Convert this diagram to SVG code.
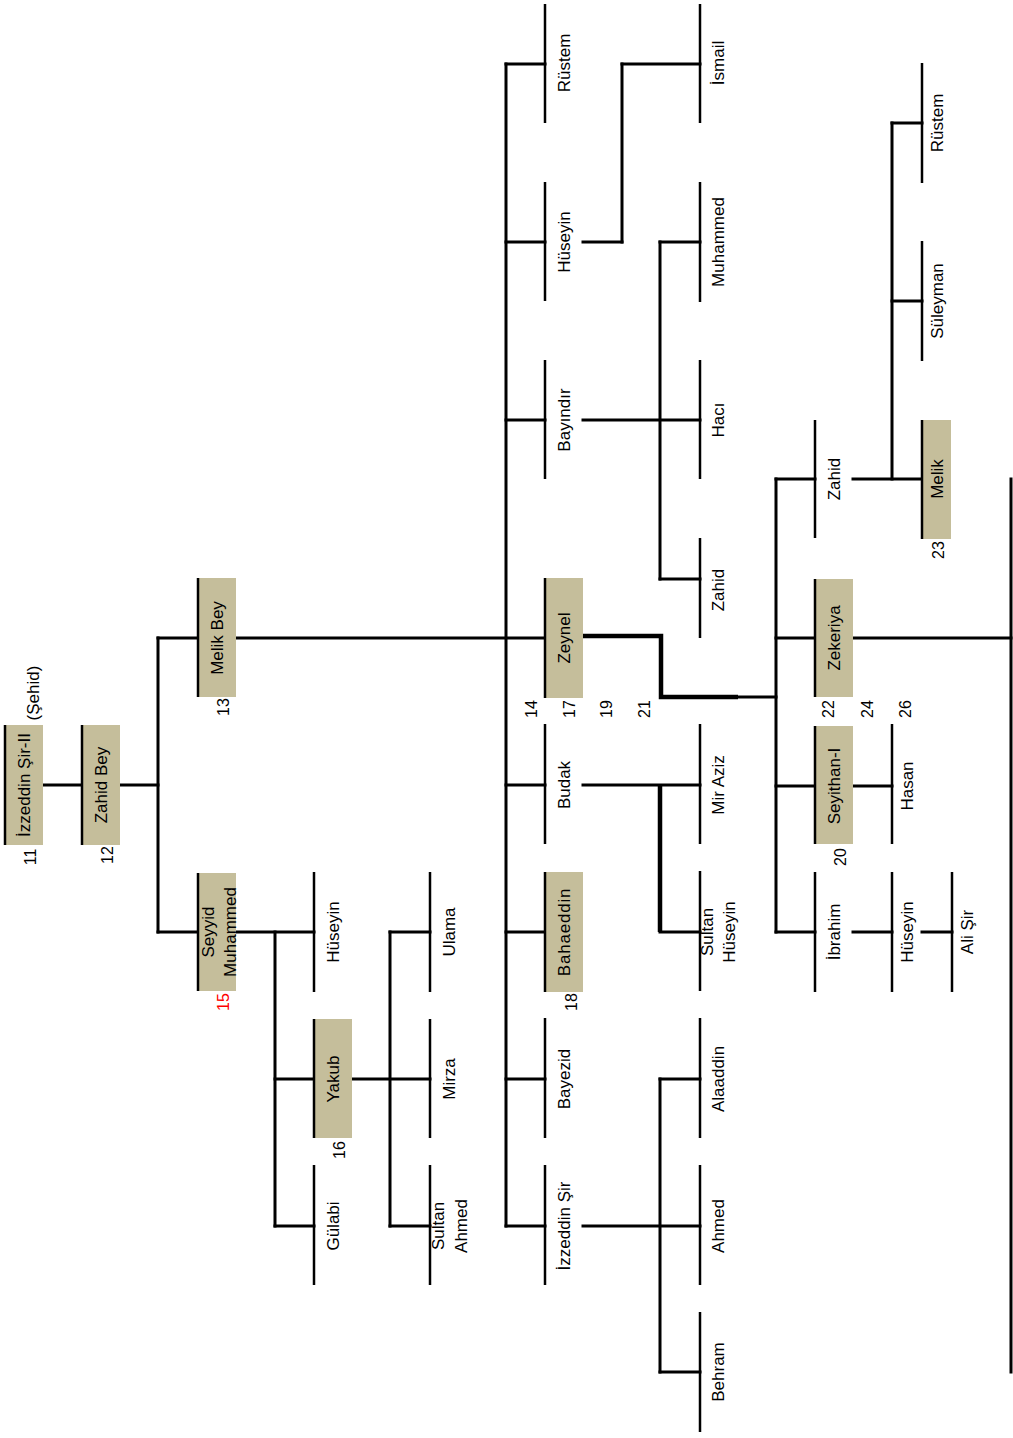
<svg xmlns="http://www.w3.org/2000/svg" width="1013" height="1438" viewBox="0 0 1013 1438">
<style>
.bg{fill:#ffffff}
.box{fill:#C5BE9B}
.edge{stroke:#000;stroke-width:2.5;fill:none}
.c{stroke:#000;stroke-width:3;fill:none;stroke-linecap:square}
.ct{stroke:#000;stroke-width:4.5;fill:none}
.lbl{font-family:"Liberation Sans",Arial,sans-serif;font-size:17px;text-anchor:middle;fill:#000}
.l2{font-family:"Liberation Sans",Arial,sans-serif;font-size:17px;text-anchor:middle;fill:#000}
.num{font-family:"Liberation Sans",Arial,sans-serif;font-size:16px;text-anchor:middle;fill:#000}
.red{fill:#FF0000}
</style>
<rect class="bg" x="0" y="0" width="1013" height="1438"/>

<g id="connectors">
  <line class="c" x1="43" y1="785" x2="82" y2="785"/>
  <line class="c" x1="120" y1="785" x2="158" y2="785"/>
  <line class="c" x1="158" y1="638" x2="158" y2="932"/>
  <line class="c" x1="158" y1="638" x2="198" y2="638"/>
  <line class="c" x1="158" y1="932" x2="198" y2="932"/>
  <line class="c" x1="236" y1="638" x2="545" y2="638"/>
  <line class="c" x1="506" y1="64" x2="506" y2="1226"/>
  <line class="c" x1="506" y1="64" x2="545" y2="64"/>
  <line class="c" x1="506" y1="242" x2="545" y2="242"/>
  <line class="c" x1="506" y1="420" x2="545" y2="420"/>
  <line class="c" x1="506" y1="785" x2="545" y2="785"/>
  <line class="c" x1="506" y1="932" x2="545" y2="932"/>
  <line class="c" x1="506" y1="1079" x2="545" y2="1079"/>
  <line class="c" x1="506" y1="1226" x2="545" y2="1226"/>
  <line class="c" x1="236" y1="932" x2="314" y2="932"/>
  <line class="c" x1="275" y1="932" x2="275" y2="1226"/>
  <line class="c" x1="275" y1="1079" x2="314" y2="1079"/>
  <line class="c" x1="275" y1="1226" x2="314" y2="1226"/>
  <line class="c" x1="352" y1="1079" x2="430" y2="1079"/>
  <line class="c" x1="390" y1="932" x2="390" y2="1226"/>
  <line class="c" x1="390" y1="932" x2="430" y2="932"/>
  <line class="c" x1="390" y1="1226" x2="430" y2="1226"/>
  <line class="c" x1="583" y1="242" x2="622" y2="242"/>
  <line class="c" x1="622" y1="64" x2="622" y2="242"/>
  <line class="c" x1="622" y1="64" x2="700" y2="64"/>
  <line class="c" x1="583" y1="420" x2="700" y2="420"/>
  <line class="c" x1="660" y1="242" x2="660" y2="579"/>
  <line class="c" x1="660" y1="242" x2="700" y2="242"/>
  <line class="c" x1="660" y1="579" x2="700" y2="579"/>
  <polyline class="ct" points="583,636 661,636 661,697 738,697"/>
  <line class="c" x1="738" y1="697" x2="776" y2="697"/>
  <line class="c" x1="776" y1="479" x2="776" y2="932"/>
  <line class="c" x1="776" y1="479" x2="815" y2="479"/>
  <line class="c" x1="776" y1="638" x2="815" y2="638"/>
  <line class="c" x1="776" y1="786" x2="815" y2="786"/>
  <line class="c" x1="776" y1="932" x2="815" y2="932"/>
  <line class="c" x1="853" y1="479" x2="922" y2="479"/>
  <line class="c" x1="892" y1="123" x2="892" y2="479"/>
  <line class="c" x1="892" y1="123" x2="922" y2="123"/>
  <line class="c" x1="892" y1="301" x2="922" y2="301"/>
  <line class="c" x1="853" y1="638" x2="1011" y2="638"/>
  <line class="c" x1="1011" y1="479" x2="1011" y2="1372"/>
  <line class="c" x1="853" y1="786" x2="892" y2="786"/>
  <line class="c" x1="853" y1="932" x2="892" y2="932"/>
  <line class="c" x1="922" y1="932" x2="952" y2="932"/>
  <line class="c" x1="583" y1="785" x2="700" y2="785"/>
  <line class="ct" x1="660" y1="785" x2="660" y2="932"/>
  <line class="c" x1="660" y1="932" x2="700" y2="932"/>
  <line class="c" x1="583" y1="1226" x2="700" y2="1226"/>
  <line class="c" x1="660" y1="1079" x2="660" y2="1372"/>
  <line class="c" x1="660" y1="1079" x2="700" y2="1079"/>
  <line class="c" x1="660" y1="1372" x2="700" y2="1372"/>
</g>

<g id="n11"><rect class="box" x="5" y="725" width="38" height="120"/><line class="edge" x1="5" y1="725" x2="5" y2="845"/><text class="lbl" transform="translate(24,785) rotate(-90)" y="6">İzzeddin Şir-II</text><text class="lbl" transform="translate(33,693) rotate(-90)" y="6">(Şehid)</text><text class="num" transform="translate(30,857) rotate(-90)" y="6">11</text></g>
<g id="n12"><rect class="box" x="82" y="725" width="38" height="120"/><line class="edge" x1="82" y1="725" x2="82" y2="845"/><text class="lbl" transform="translate(101,785) rotate(-90)" y="6">Zahid Bey</text><text class="num" transform="translate(107,855) rotate(-90)" y="6">12</text></g>
<g id="n13"><rect class="box" x="198" y="578" width="38" height="119"/><line class="edge" x1="198" y1="578" x2="198" y2="697"/><text class="lbl" transform="translate(217,638) rotate(-90)" y="6">Melik Bey</text><text class="num" transform="translate(223,707) rotate(-90)" y="6">13</text></g>
<g id="n15"><rect class="box" x="198" y="873" width="38" height="118"/><line class="edge" x1="198" y1="873" x2="198" y2="991"/><text class="l2" transform="translate(214,932) rotate(-90)">Seyyid</text><text class="l2" transform="translate(236,932) rotate(-90)">Muhammed</text><text class="num red" transform="translate(223,1002) rotate(-90)" y="6">15</text></g>
<g id="d1"><line class="edge" x1="314" y1="872" x2="314" y2="992"/><text class="lbl" transform="translate(333,932) rotate(-90)" y="6">Hüseyin</text></g>
<g id="n16"><rect class="box" x="314" y="1019" width="38" height="119"/><line class="edge" x1="314" y1="1019" x2="314" y2="1138"/><text class="lbl" transform="translate(333,1079) rotate(-90)" y="6">Yakub</text><text class="num" transform="translate(339,1150) rotate(-90)" y="6">16</text></g>
<g id="d3"><line class="edge" x1="314" y1="1165" x2="314" y2="1285"/><text class="lbl" transform="translate(333,1226) rotate(-90)" y="6">Gülabi</text></g>
<g id="e1"><line class="edge" x1="430" y1="872" x2="430" y2="992"/><text class="lbl" transform="translate(449,932) rotate(-90)" y="6">Ulama</text></g>
<g id="e2"><line class="edge" x1="430" y1="1019" x2="430" y2="1138"/><text class="lbl" transform="translate(449,1079) rotate(-90)" y="6">Mirza</text></g>
<g id="e3"><line class="edge" x1="430" y1="1165" x2="430" y2="1285"/><text class="l2" transform="translate(444,1226) rotate(-90)">Sultan</text><text class="l2" transform="translate(467,1226) rotate(-90)">Ahmed</text></g>

<g id="f1"><line class="edge" x1="545" y1="4" x2="545" y2="123"/><text class="lbl" transform="translate(564,63) rotate(-90)" y="6">Rüstem</text></g>
<g id="f2"><line class="edge" x1="545" y1="182" x2="545" y2="301"/><text class="lbl" transform="translate(564,242) rotate(-90)" y="6">Hüseyin</text></g>
<g id="f3"><line class="edge" x1="545" y1="360" x2="545" y2="479"/><text class="lbl" transform="translate(564,420) rotate(-90)" y="6">Bayındır</text></g>
<g id="n17"><rect class="box" x="545" y="578" width="38" height="120"/><line class="edge" x1="545" y1="578" x2="545" y2="698"/><text class="lbl" transform="translate(564,638) rotate(-90)" y="6">Zeynel</text>
<text class="num" transform="translate(531,709) rotate(-90)" y="6">14</text><text class="num" transform="translate(569,709) rotate(-90)" y="6">17</text><text class="num" transform="translate(606,709) rotate(-90)" y="6">19</text><text class="num" transform="translate(644,709) rotate(-90)" y="6">21</text></g>
<g id="f5"><line class="edge" x1="545" y1="724" x2="545" y2="844"/><text class="lbl" transform="translate(564,785) rotate(-90)" y="6">Budak</text></g>
<g id="n18"><rect class="box" x="545" y="872" width="38" height="120"/><line class="edge" x1="545" y1="872" x2="545" y2="992"/><text class="lbl" transform="translate(564,932) rotate(-90)" y="6" letter-spacing="0.8">Bahaeddin</text><text class="num" transform="translate(571,1002) rotate(-90)" y="6">18</text></g>
<g id="f7"><line class="edge" x1="545" y1="1018" x2="545" y2="1138"/><text class="lbl" transform="translate(564,1079) rotate(-90)" y="6">Bayezid</text></g>
<g id="f8"><line class="edge" x1="545" y1="1165" x2="545" y2="1285"/><text class="lbl" transform="translate(564,1226) rotate(-90)" y="6">İzzeddin Şir</text></g>

<g id="g1"><line class="edge" x1="700" y1="4" x2="700" y2="123"/><text class="lbl" transform="translate(718,63) rotate(-90)" y="6">İsmail</text></g>
<g id="g2"><line class="edge" x1="700" y1="182" x2="700" y2="302"/><text class="lbl" transform="translate(718,242) rotate(-90)" y="6">Muhammed</text></g>
<g id="g3"><line class="edge" x1="700" y1="360" x2="700" y2="479"/><text class="lbl" transform="translate(718,420) rotate(-90)" y="6">Hacı</text></g>
<g id="g4"><line class="edge" x1="700" y1="538" x2="700" y2="638"/><text class="lbl" transform="translate(718,590) rotate(-90)" y="6">Zahid</text></g>
<g id="g5"><line class="edge" x1="700" y1="724" x2="700" y2="844"/><text class="lbl" transform="translate(718,785) rotate(-90)" y="6">Mir Aziz</text></g>
<g id="g6"><line class="edge" x1="700" y1="871" x2="700" y2="991"/><text class="l2" transform="translate(713,932) rotate(-90)">Sultan</text><text class="l2" transform="translate(735,932) rotate(-90)">Hüseyin</text></g>
<g id="g7"><line class="edge" x1="700" y1="1018" x2="700" y2="1138"/><text class="lbl" transform="translate(718,1079) rotate(-90)" y="6">Alaaddin</text></g>
<g id="g8"><line class="edge" x1="700" y1="1165" x2="700" y2="1285"/><text class="lbl" transform="translate(718,1226) rotate(-90)" y="6">Ahmed</text></g>
<g id="g9"><line class="edge" x1="700" y1="1312" x2="700" y2="1432"/><text class="lbl" transform="translate(718,1372) rotate(-90)" y="6">Behram</text></g>

<g id="h1"><line class="edge" x1="815" y1="420" x2="815" y2="538"/><text class="lbl" transform="translate(834,479) rotate(-90)" y="6">Zahid</text></g>
<g id="n22"><rect class="box" x="815" y="579" width="38" height="118"/><line class="edge" x1="815" y1="579" x2="815" y2="697"/><text class="lbl" transform="translate(834,638) rotate(-90)" y="6">Zekeriya</text><text class="num" transform="translate(828,709) rotate(-90)" y="6">22</text><text class="num" transform="translate(867,709) rotate(-90)" y="6">24</text><text class="num" transform="translate(905,709) rotate(-90)" y="6">26</text></g>
<g id="n20"><rect class="box" x="815" y="726" width="38" height="118"/><line class="edge" x1="815" y1="726" x2="815" y2="844"/><text class="lbl" transform="translate(834,786) rotate(-90)" y="6">Seyithan-I</text><text class="num" transform="translate(840,857) rotate(-90)" y="6">20</text></g>
<g id="h4"><line class="edge" x1="815" y1="872" x2="815" y2="992"/><text class="lbl" transform="translate(834,932) rotate(-90)" y="6">İbrahim</text></g>
<g id="i1"><line class="edge" x1="892" y1="724" x2="892" y2="844"/><text class="lbl" transform="translate(907,786) rotate(-90)" y="6">Hasan</text></g>
<g id="i2"><line class="edge" x1="892" y1="872" x2="892" y2="992"/><text class="lbl" transform="translate(907,932) rotate(-90)" y="6">Hüseyin</text></g>
<g id="j1"><line class="edge" x1="922" y1="63" x2="922" y2="183"/><text class="lbl" transform="translate(937,123) rotate(-90)" y="6">Rüstem</text></g>
<g id="j2"><line class="edge" x1="922" y1="241" x2="922" y2="361"/><text class="lbl" transform="translate(937,301) rotate(-90)" y="6">Süleyman</text></g>
<g id="n23"><rect class="box" x="922" y="420" width="29" height="119"/><line class="edge" x1="922" y1="420" x2="922" y2="539"/><text class="lbl" transform="translate(937,479) rotate(-90)" y="6">Melik</text><text class="num" transform="translate(938,550) rotate(-90)" y="6">23</text></g>
<g id="k1"><line class="edge" x1="952" y1="872" x2="952" y2="992"/><text class="lbl" transform="translate(967,932) rotate(-90)" y="6">Ali Şir</text></g>
</svg>
